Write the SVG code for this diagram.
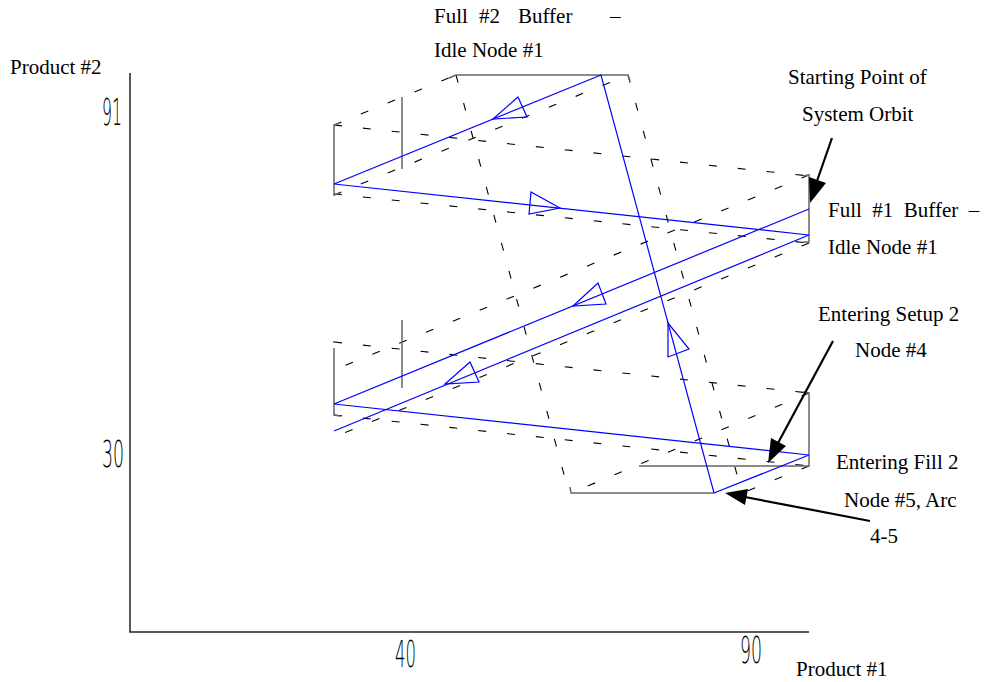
<svg xmlns="http://www.w3.org/2000/svg" width="985" height="682" viewBox="0 0 985 682">
<style>
.lbl{font-family:"Liberation Serif","Times New Roman",serif;font-size:21px;fill:#000;white-space:pre}
.tick{font-family:"DejaVu Sans",sans-serif;font-weight:200;font-size:38px;fill:#000}
.blue{stroke:#0000ff;stroke-width:1.2;fill:none}
.dash{stroke:#000;stroke-width:1.1;fill:none;stroke-dasharray:8 21}
.gray{stroke:#666;stroke-width:1.5;fill:none}
.axis{stroke:#222;stroke-width:1.5;fill:none}
.ann{stroke:#000;stroke-width:2.2;fill:none}
.head{fill:#000;stroke:none}
</style>
<rect width="985" height="682" fill="#fff"/>
<g id="axes">
<path class="axis" d="M130,73 L130,632 L809,632"/>
<text class="tick" x="102" y="125" textLength="20" lengthAdjust="spacingAndGlyphs">91</text>
<text class="tick" x="102" y="467" textLength="22" lengthAdjust="spacingAndGlyphs">30</text>
<text class="tick" x="395" y="667" textLength="21" lengthAdjust="spacingAndGlyphs">40</text>
<text class="tick" x="740" y="663" textLength="22" lengthAdjust="spacingAndGlyphs">90</text>
<text class="lbl" x="10" y="74">Product #2</text>
<text class="lbl" x="796" y="676">Product #1</text>
</g>
<g id="grid">
<path class="dash" d="M334,125 L456,75"/>
<path class="dash" d="M334,125 L809,176"/>
<path class="dash" d="M334,195 L628,75"/>
<path class="dash" d="M334,194 L809,243"/>
<path class="dash" d="M456,75 L569,493"/>
<path class="dash" d="M628,75 L742,493"/>
<path class="dash" d="M809,175 L334,370"/>
<path class="dash" d="M809,243 L334,437"/>
<path class="dash" d="M334,342 L809,393"/>
<path class="dash" d="M334,415 L809,466"/>
<path class="dash" d="M809,393 L571,493"/>
<path class="dash" d="M809,466 L742,493"/>
</g>
<g id="frames">
<path class="gray" d="M449,78 L456,75 L628,75 L630,81"/>
<path class="gray" d="M340,123 L334,125 L334,195 L340,193"/>
<path class="gray" d="M402,97 L402,169"/>
<path class="gray" d="M803,176 L809,175 L809,242 L803,242"/>
<path class="gray" d="M334,341 L334,343 M334,348 L334,415 L340,416"/>
<path class="gray" d="M402,320 L402,388"/>
<path class="gray" d="M803,392 L809,393 L809,466 L639,466"/>
<path class="gray" d="M570,487 L571,493 L714,493"/>
</g>
<g id="orbit">
<path class="blue" d="M809,209 L334,404 L809,455 L714,493 L601,75 L334,184 L809,235 L334,431"/>
<path class="blue" d="M493,119 L518,97 L527,117 Z"/>
<path class="blue" d="M560,208 L531,192 L529,214 Z"/>
<path class="blue" d="M573,306 L598,283 L606,304 Z"/>
<path class="blue" d="M445,384 L470,362 L479,382 Z"/>
<path class="blue" d="M668,323 L668,357 L689,349 Z"/>
</g>
<g id="node-start">
<text class="lbl" x="788" y="84">Starting Point of</text>
<text class="lbl" x="802" y="121">System Orbit</text>
<path class="ann" d="M832,138 L817,181"/>
<path class="head" d="M810,203 L826,183 L809,177 Z"/>
</g>
<g id="node-full2">
<text class="lbl" y="23"><tspan x="434">Full</tspan><tspan x="479">#2</tspan><tspan x="518">Buffer</tspan><tspan x="610">–</tspan></text>
<text class="lbl" x="434" y="57">Idle Node #1</text>
</g>
<g id="node-full1">
<text class="lbl" x="828" y="217">Full  #1  Buffer  –</text>
<text class="lbl" x="828" y="254">Idle Node #1</text>
</g>
<g id="node-setup2">
<text class="lbl" x="818" y="321">Entering Setup 2</text>
<text class="lbl" x="855" y="357">Node #4</text>
<path class="ann" d="M833,341 L778,443"/>
<path class="head" d="M768,463 L786,446 L771,438 Z"/>
</g>
<g id="node-fill2">
<text class="lbl" x="836" y="469">Entering Fill 2</text>
<text class="lbl" x="844" y="507">Node #5, Arc</text>
<text class="lbl" x="870" y="543">4-5</text>
<path class="ann" d="M870,521 L745,497"/>
<path class="head" d="M725,493 L748,489 L745,505 Z"/>
</g>
</svg>
